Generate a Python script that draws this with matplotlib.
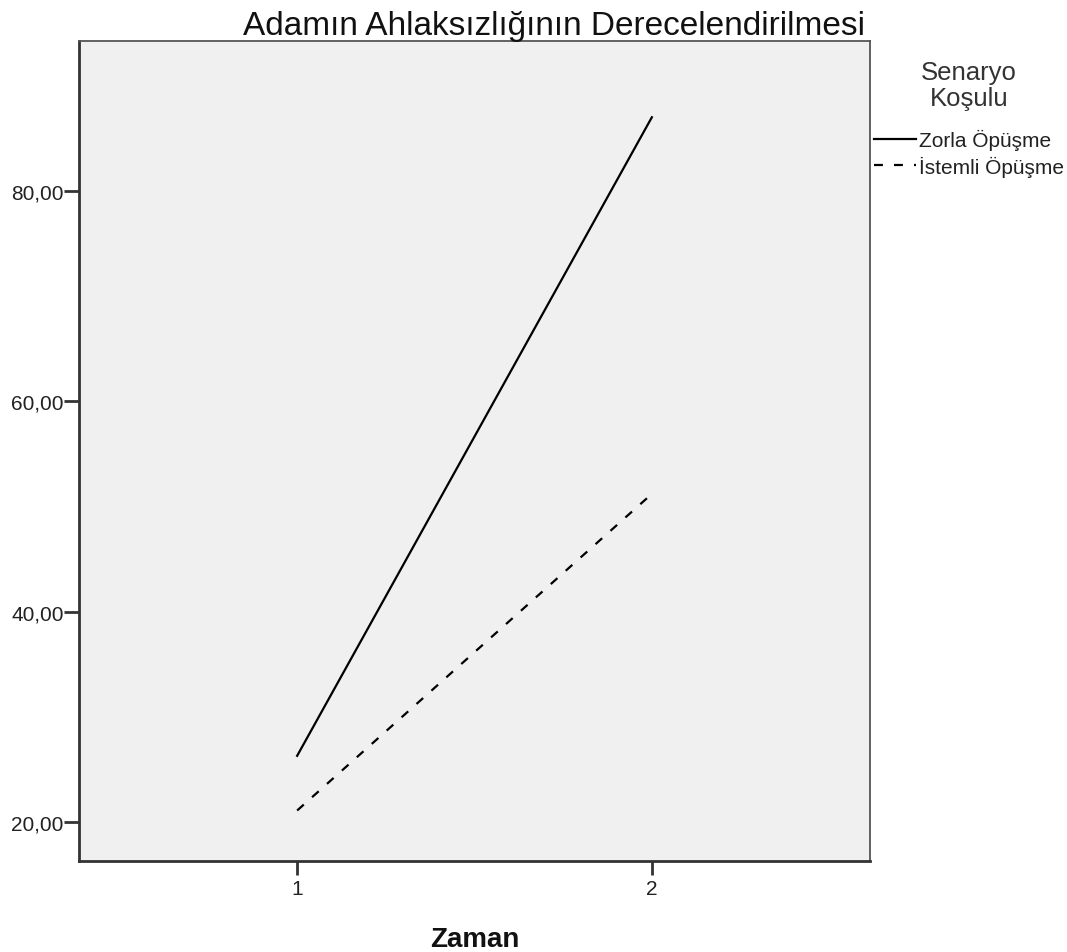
import matplotlib
matplotlib.use("Agg")
import matplotlib.pyplot as plt

plt.rcParams['font.family'] = ['Liberation Sans', 'DejaVu Sans']

zaman = [1, 2]
zorla = [26.3, 87.0]
istemli = [21.1, 51.2]
series_labels = ["Zorla Öpüşme", "İstemli Öpüşme"]
yticks = [20, 40, 60, 80]
ytick_labels = ["20,00", "40,00", "60,00", "80,00"]

fig = plt.figure(figsize=(10.67, 9.53), dpi=100)
ax = fig.add_axes([79/1067, 1-862/953, (870-79)/1067, (862-42)/953])
ax.set_facecolor('#f0f0f0')

ax.plot(zaman, zorla, color='black', lw=1.6, label=series_labels[0])
ax.plot(zaman, istemli, color='black', lw=1.6, ls=(0, (4, 5)), label=series_labels[1])

ax.set_xlim(0.385, 2.615)
ax.set_ylim(16.3, 94.25)
ax.set_xticks(zaman)
ax.set_xticklabels(["1", "2"])
ax.set_yticks(yticks)
ax.set_yticklabels(ytick_labels)

for s in ['top', 'right']:
    ax.spines[s].set_color('#555555')
    ax.spines[s].set_linewidth(1.3)
for s in ['left', 'bottom']:
    ax.spines[s].set_color('#333333')
    ax.spines[s].set_linewidth(2.0)

ax.tick_params(axis='y', length=10.5, width=2, color='#333333', labelsize=15, pad=0.5, labelcolor='#222222')
ax.tick_params(axis='x', length=10, width=2, color='#333333', labelsize=15, pad=3, labelcolor='#222222')

ax.set_title("Adamın Ahlaksızlığının Derecelendirilmesi", fontsize=24, pad=5, color='#111111', x=0.60)
ax.set_xlabel("Zaman", fontsize=20, fontweight='bold', labelpad=20, color='#111111')

leg = ax.legend(loc='upper left', bbox_to_anchor=(1.0, 0.982), frameon=False,
                title="Senaryo\nKoşulu", fontsize=15, title_fontsize=18.5,
                handlelength=2.0, handletextpad=0.15, borderaxespad=0.0, borderpad=0.2,
                labelspacing=0.25, alignment='center')
leg.get_title().set_color('#333333')
leg.get_title().set_multialignment('center')
leg.get_title().set_linespacing(1.1)
leg._legend_box.sep = 14
for t in leg.get_texts():
    t.set_color('#222222')

fig.savefig("out.png", dpi=100)
